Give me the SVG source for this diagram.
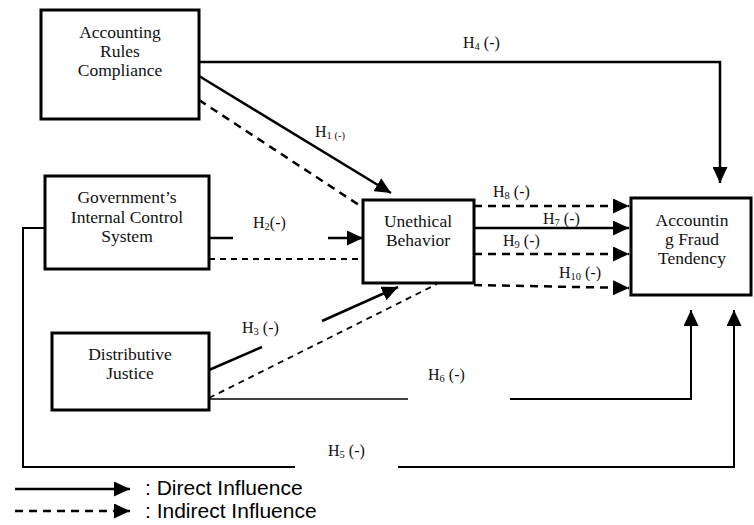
<svg xmlns="http://www.w3.org/2000/svg" width="754" height="525" viewBox="0 0 754 525">
<style>
.box{fill:#fff;stroke:#000;stroke-width:3}
.t{font-family:"Liberation Serif","Times New Roman",serif;font-size:17.5px;fill:#111;text-anchor:middle}
.lb{font-family:"Liberation Serif","Times New Roman",serif;font-size:16px;fill:#111}
.sub{font-size:10.5px}
.s{fill:none;stroke:#000;stroke-width:2.5}
.d{fill:none;stroke:#000;stroke-width:2.5;stroke-dasharray:8 6}
.thin{fill:none;stroke:#000;stroke-width:1.6}
.dt{fill:none;stroke:#000;stroke-width:1.8;stroke-dasharray:6 5}
.leg{font-family:"Liberation Sans",Arial,sans-serif;font-size:21px;fill:#000}
</style>
<defs>
<marker id="ah" markerUnits="userSpaceOnUse" markerWidth="17" markerHeight="15" refX="16" refY="7.5" orient="auto">
<path d="M0,0 L16,7.5 L0,15 z" fill="#000"/>
</marker>
</defs>
<g id="connectors">
<polyline class="s" points="199,62 720,62 720,183" marker-end="url(#ah)"/>
<line class="s" x1="199" y1="76" x2="391" y2="193" marker-end="url(#ah)"/>
<line class="d" x1="199" y1="100" x2="362" y2="207"/>
<line class="s" x1="209" y1="238" x2="233" y2="238"/>
<line class="s" x1="328" y1="238" x2="363" y2="238" marker-end="url(#ah)"/>
<line class="dt" x1="209" y1="259" x2="360" y2="259"/>
<line class="s" x1="209" y1="370" x2="262" y2="347"/>
<line class="s" x1="322" y1="321" x2="398" y2="287" marker-end="url(#ah)"/>
<line class="dt" x1="209" y1="398" x2="437" y2="284"/>
<polyline class="thin" points="209,399 408,399"/>
<polyline class="s" style="stroke-width:2" points="510,399 691,399 691,310" marker-end="url(#ah)"/>
<polyline class="s" style="stroke-width:2" points="45,228 23,228 23,467 295,467"/>
<polyline class="s" style="stroke-width:2" points="398,467 734,467 734,310" marker-end="url(#ah)"/>
<line class="d" x1="474" y1="206" x2="629" y2="206" marker-end="url(#ah)"/>
<line class="s" x1="474" y1="228" x2="629" y2="228" marker-end="url(#ah)"/>
<line class="d" x1="474" y1="254" x2="629" y2="254" marker-end="url(#ah)"/>
<line class="d" x1="474" y1="285" x2="629" y2="288" marker-end="url(#ah)"/>
<text class="lb" x="463" y="48">H<tspan class="sub" dy="2">4</tspan><tspan dy="-2"> (-)</tspan></text>
<text class="lb" x="315" y="137">H<tspan class="sub" dy="2">1 (-)</tspan></text>
<text class="lb" x="253" y="228">H<tspan class="sub" dy="2">2</tspan><tspan dy="-2">(-)</tspan></text>
<text class="lb" x="242" y="333">H<tspan class="sub" dy="2">3</tspan><tspan dy="-2"> (-)</tspan></text>
<text class="lb" x="428" y="380">H<tspan class="sub" dy="2">6</tspan><tspan dy="-2"> (-)</tspan></text>
<text class="lb" x="328" y="456">H<tspan class="sub" dy="2">5</tspan><tspan dy="-2"> (-)</tspan></text>
<text class="lb" x="493" y="197">H<tspan class="sub" dy="2">8</tspan><tspan dy="-2"> (-)</tspan></text>
<text class="lb" x="543" y="224">H<tspan class="sub" dy="2">7</tspan><tspan dy="-2"> (-)</tspan></text>
<text class="lb" x="503" y="246">H<tspan class="sub" dy="2">9</tspan><tspan dy="-2"> (-)</tspan></text>
<text class="lb" x="559" y="278">H<tspan class="sub" dy="2">10</tspan><tspan dy="-2"> (-)</tspan></text>
</g>
<g id="n1">
<rect class="box" x="41" y="10" width="158" height="109"/>
<text class="t" x="120" y="38">Accounting</text>
<text class="t" x="120" y="57">Rules</text>
<text class="t" x="120" y="76">Compliance</text>
</g>
<g id="n2">
<rect class="box" x="45" y="176" width="164" height="93"/>
<text class="t" x="127" y="203">Government’s</text>
<text class="t" x="127" y="223">Internal Control</text>
<text class="t" x="127" y="242">System</text>
</g>
<g id="n3">
<rect class="box" x="363" y="200" width="111" height="83"/>
<text class="t" x="418" y="227">Unethical</text>
<text class="t" x="418" y="246">Behavior</text>
</g>
<g id="n4">
<rect class="box" x="52" y="333" width="157" height="77"/>
<text class="t" x="130" y="360">Distributive</text>
<text class="t" x="130" y="379">Justice</text>
</g>
<g id="n5">
<rect class="box" x="631" y="198" width="120" height="97"/>
<text class="t" x="692" y="226">Accountin</text>
<text class="t" x="692" y="245">g Fraud</text>
<text class="t" x="692" y="264">Tendency</text>
</g>
<g id="legend">
<line class="s" x1="15" y1="489" x2="130" y2="489" marker-end="url(#ah)"/>
<line class="d" x1="15" y1="511" x2="130" y2="511" marker-end="url(#ah)"/>
<text class="leg" x="145" y="495">: Direct Influence</text>
<text class="leg" x="145" y="518">: Indirect Influence</text>
</g>
</svg>
